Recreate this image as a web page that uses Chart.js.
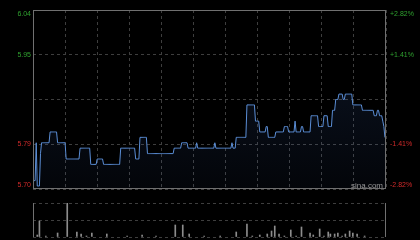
<!DOCTYPE html>
<html>
<head>
<meta charset="utf-8">
<script src="https://cdn.jsdelivr.net/npm/chart.js@4/dist/chart.umd.min.js"></script>
<style>
html, body { margin: 0; padding: 0; background: #000; width: 420px; height: 240px; overflow: hidden; }
canvas { position: absolute; left: 0; }
#price { top: 0; }
#vol { top: 196px; }
</style>
</head>
<body>
<canvas id="price" width="420" height="196"></canvas>
<canvas id="vol" width="420" height="44"></canvas>
<script>
const prevClose = 5.87;
const axisMin = 5.7045, axisMax = 6.0355;
const gridValues = [6.0355, 5.95275, 5.87, 5.78725, 5.7045];
const leftLabels = ['6.04', '5.95', '', '5.79', '5.70'];
const rightLabels = ['+2.82%', '+1.41%', '', '-1.41%', '-2.82%'];

// price per minute, stored as levels + how many minutes each lasted
const priceLevels = [5.72, 5.79, 5.71, 5.77, 5.79, 5.81, 5.79, 5.76, 5.78, 5.75, 5.76, 5.75, 5.78, 5.76, 5.80,
    5.77, 5.78, 5.79, 5.78, 5.79, 5.78, 5.79, 5.78, 5.79, 5.78, 5.80, 5.86, 5.83, 5.81, 5.82, 5.80, 5.81, 5.82,
    5.81, 5.83, 5.81, 5.82, 5.81, 5.84, 5.82, 5.84, 5.82, 5.85, 5.87, 5.88, 5.87, 5.88, 5.86, 5.85, 5.84, 5.85,
    5.84, 5.83, 5.82, 5.80];
const priceRuns = [3, 1, 3, 1, 8, 7, 8, 13, 10, 6, 6, 16, 14, 4, 7,
    25, 7, 6, 8, 1, 16, 1, 15, 1, 3, 10, 8, 4, 6, 2, 7, 8, 4,
    6, 1, 5, 2, 7, 7, 5, 4, 4, 3, 3, 4, 2, 7, 9, 11, 3, 2,
    3, 1, 1, 2];

// volume bars (minute index, volume)
const volMinutes = [0, 4, 6, 12, 23, 32, 41, 45, 50, 55, 69, 88, 102, 115, 133, 140, 146, 160, 175, 190, 200, 205,
    212, 219, 223, 226, 230, 235, 241, 246, 251, 259, 262, 268, 272, 276, 278, 282, 285, 289, 292, 296, 299, 303, 310];
const volValues = [7, 2, 16, 1, 4, 34, 5, 3, 1, 4, 3, 1, 2, 1, 12, 12, 3, 1, 1, 5, 13, 1,
    2, 3, 6, 11, 3, 1, 7, 1, 10, 4, 2, 8, 1, 5, 3, 3, 4, 1, 3, 6, 4, 3, 1];

const prices = [];
priceLevels.forEach((p, k) => {
    for (let j = 0; j < priceRuns[k]; j++) prices.push(p);
});

const priceFrame = {
    id: 'priceFrame',
    afterDraw(chart) {
        const { ctx, chartArea: a, scales: { y } } = chart;
        ctx.save();
        ctx.strokeStyle = '#707070';
        ctx.lineWidth = 1;
        ctx.strokeRect(a.left + 0.5, a.top + 0.5, a.right - a.left - 1, a.bottom - a.top - 1);
        ctx.font = '7px "Liberation Sans", Arial, sans-serif';
        gridValues.forEach((v, k) => {
            if (!leftLabels[k]) return;
            let py = y.getPixelForValue(v);
            if (k === 0) { ctx.textBaseline = 'top'; py += 1; }
            else if (k === gridValues.length - 1) { ctx.textBaseline = 'bottom'; }
            else ctx.textBaseline = 'middle';
            ctx.fillStyle = v > prevClose ? '#2fa12f' : '#d02a2a';
            ctx.textAlign = 'right';
            ctx.fillText(leftLabels[k], a.left - 2, py);
            ctx.textAlign = 'left';
            ctx.fillText(rightLabels[k], a.right + 4, py);
        });
        ctx.font = '8px "Liberation Sans", Arial, sans-serif';
        ctx.fillStyle = '#999';
        ctx.textAlign = 'left';
        ctx.textBaseline = 'middle';
        ctx.fillText('sina.com', 351, a.bottom - 3.5);
        ctx.restore();
    }
};

const volFrame = {
    id: 'volFrame',
    afterDraw(chart) {
        const { ctx, chartArea: a } = chart;
        ctx.save();
        ctx.strokeStyle = '#707070';
        ctx.lineWidth = 1;
        ctx.beginPath();
        ctx.moveTo(a.left + 0.5, a.top); ctx.lineTo(a.left + 0.5, a.bottom);
        ctx.moveTo(a.right - 0.5, a.top); ctx.lineTo(a.right - 0.5, a.bottom);
        ctx.stroke();
        ctx.restore();
    }
};

new Chart(document.getElementById('price'), {
    type: 'line',
    data: {
        datasets: [{
            data: prices.map((p, i) => ({ x: i, y: p })),
            borderColor: '#5b8ed6',
            borderWidth: 1,
            pointRadius: 0,
            tension: 0,
            fill: 'start',
            backgroundColor: c => {
                const a = c.chart.chartArea;
                if (!a) return 'rgba(0,0,0,0)';
                const g = c.chart.ctx.createLinearGradient(0, a.top, 0, a.bottom);
                g.addColorStop(0, 'rgba(60,100,180,0.22)');
                g.addColorStop(1, 'rgba(60,100,180,0.05)');
                return g;
            }
        }]
    },
    options: {
        responsive: false,
        animation: false,
        devicePixelRatio: 1,
        layout: { padding: { left: 33, right: 34, top: 10, bottom: 7 } },
        plugins: { legend: { display: false }, tooltip: { enabled: false } },
        scales: {
            x: {
                type: 'linear', min: 0, max: 330,
                ticks: { display: false, stepSize: 30 },
                grid: { color: '#3e3e3e', drawTicks: false },
                border: { display: false, dash: [3, 3] },
                afterFit: s => { s.height = 0; }
            },
            y: {
                min: axisMin, max: axisMax,
                afterBuildTicks: s => { s.ticks = gridValues.map(v => ({ value: v })); },
                ticks: { display: false },
                grid: { color: '#3e3e3e', drawTicks: false },
                border: { display: false, dash: [3, 3] },
                afterFit: s => { s.width = 0; }
            }
        }
    },
    plugins: [priceFrame]
});

new Chart(document.getElementById('vol'), {
    type: 'bar',
    data: {
        datasets: [{
            data: volMinutes.map((m, k) => ({ x: m, y: volValues[k] })),
            backgroundColor: '#8c8c8c',
            barThickness: 1
        }]
    },
    options: {
        responsive: false,
        animation: false,
        devicePixelRatio: 1,
        layout: { padding: { left: 33, right: 34, top: 7, bottom: 3 } },
        plugins: { legend: { display: false }, tooltip: { enabled: false } },
        scales: {
            x: {
                type: 'linear', min: 0, max: 330, offset: false,
                ticks: { display: false },
                grid: { display: false, offset: false },
                border: { display: false },
                afterFit: s => { s.height = 0; }
            },
            y: {
                min: 0, max: 34,
                afterBuildTicks: s => { s.ticks = [0, 17, 34].map(v => ({ value: v })); },
                ticks: { display: false },
                grid: { color: '#3e3e3e', drawTicks: false },
                border: { display: false, dash: [3, 3] },
                afterFit: s => { s.width = 0; }
            }
        }
    },
    plugins: [volFrame]
});
</script>
</body>
</html>
